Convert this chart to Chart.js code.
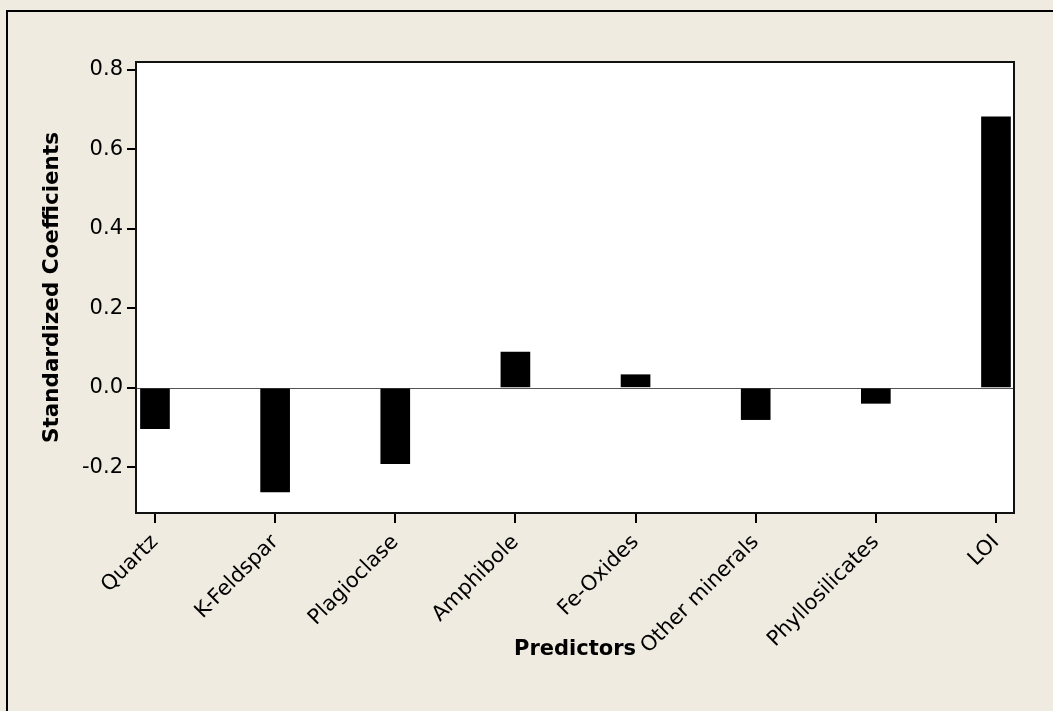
<!DOCTYPE html>
<html>
<head>
<meta charset="utf-8">
<script src="https://cdn.jsdelivr.net/npm/chart.js@4.4.1/dist/chart.umd.min.js"></script>
<style>
  html, body { margin: 0; padding: 0; background: #EFEBE1; }
  canvas { display: block; }
</style>
</head>
<body>
<canvas id="c" width="1053" height="711"></canvas>
<script>
const categories = ["Quartz", "K-Feldspar", "Plagioclase", "Amphibole", "Fe-Oxides", "Other minerals", "Phyllosilicates", "LOI"];
const coefficients = [-0.103, -0.262, -0.191, 0.090, 0.033, -0.080, -0.039, 0.682];
const yTickValues = [-0.2, 0.0, 0.2, 0.4, 0.6, 0.8];
const yAxisTitle = "Standardized Coefficients";
const xAxisTitle = "Predictors";

const FONT = "'DejaVu Sans', Verdana, sans-serif";

const framePlugin = {
  id: 'frame',
  beforeDraw(chart) {
    const ctx = chart.ctx;
    const a = chart.chartArea;
    ctx.save();
    ctx.fillStyle = '#EFEBE1';
    ctx.fillRect(0, 0, chart.width, chart.height);
    ctx.strokeStyle = '#000';
    ctx.lineWidth = 2;
    ctx.beginPath();
    ctx.moveTo(7, chart.height + 5);
    ctx.lineTo(7, 11);
    ctx.lineTo(chart.width + 5, 11);
    ctx.stroke();
    ctx.fillStyle = '#FFFFFF';
    ctx.fillRect(a.left, a.top, a.right - a.left, a.bottom - a.top);
    ctx.restore();
  },
  beforeDatasetsDraw(chart) {
    const ctx = chart.ctx;
    const a = chart.chartArea;
    const y0 = chart.scales.y.getPixelForValue(0);
    ctx.save();
    ctx.strokeStyle = '#555';
    ctx.lineWidth = 1;
    ctx.beginPath();
    ctx.moveTo(a.left, Math.round(y0) + 0.5);
    ctx.lineTo(a.right, Math.round(y0) + 0.5);
    ctx.stroke();
    ctx.restore();
  },
  afterDraw(chart) {
    const ctx = chart.ctx;
    const a = chart.chartArea;
    ctx.save();
    ctx.strokeStyle = '#111';
    ctx.lineWidth = 2;
    ctx.strokeRect(a.left, a.top, a.right - a.left, a.bottom - a.top);
    ctx.restore();
  }
};

new Chart(document.getElementById('c'), {
  type: 'bar',
  data: {
    datasets: [{
      data: categories.map((c, i) => ({ x: i + 1, y: coefficients[i] })),
      backgroundColor: '#000000',
      borderWidth: 0,
      barThickness: 29
    }]
  },
  options: {
    responsive: false,
    animation: false,
    devicePixelRatio: 1,
    layout: { padding: { left: 30, top: 62, right: 39, bottom: 40 } },
    plugins: { legend: { display: false }, tooltip: { enabled: false } },
    scales: {
      x: {
        type: 'linear',
        min: 0.842,
        max: 8.15,
        offset: false,
        afterFit(scale) { scale.height = 158; },
        afterBuildTicks(scale) { scale.ticks = categories.map((c, i) => ({ value: i + 1 })); },
        ticks: {
          autoSkip: false,
          maxRotation: 45,
          minRotation: 45,
          padding: 7,
          color: '#000',
          font: { family: FONT, size: 21 },
          callback: (v) => categories[Math.round(v) - 1] || ''
        },
        grid: { offset: false, drawOnChartArea: false, color: '#000', lineWidth: 2, tickLength: 10 },
        border: { display: false },
        title: {
          display: true,
          text: xAxisTitle,
          color: '#000',
          font: { family: FONT, size: 21, weight: 'bold' },
          padding: { top: 0, bottom: 9 }
        }
      },
      y: {
        min: -0.315,
        max: 0.82,
        afterFit(scale) { scale.width = 106; },
        afterBuildTicks(scale) { scale.ticks = yTickValues.map(v => ({ value: v })); },
        ticks: {
          padding: 4,
          color: '#000',
          font: { family: FONT, size: 21 },
          callback: (v) => Number(v).toFixed(1)
        },
        grid: { drawOnChartArea: false, color: '#000', lineWidth: 2, tickLength: 9 },
        border: { display: false },
        title: {
          display: true,
          text: yAxisTitle,
          color: '#000',
          font: { family: FONT, size: 21.5, weight: 'bold' },
          padding: { top: 10, bottom: 0 }
        }
      }
    }
  },
  plugins: [framePlugin]
});
</script>
</body>
</html>
